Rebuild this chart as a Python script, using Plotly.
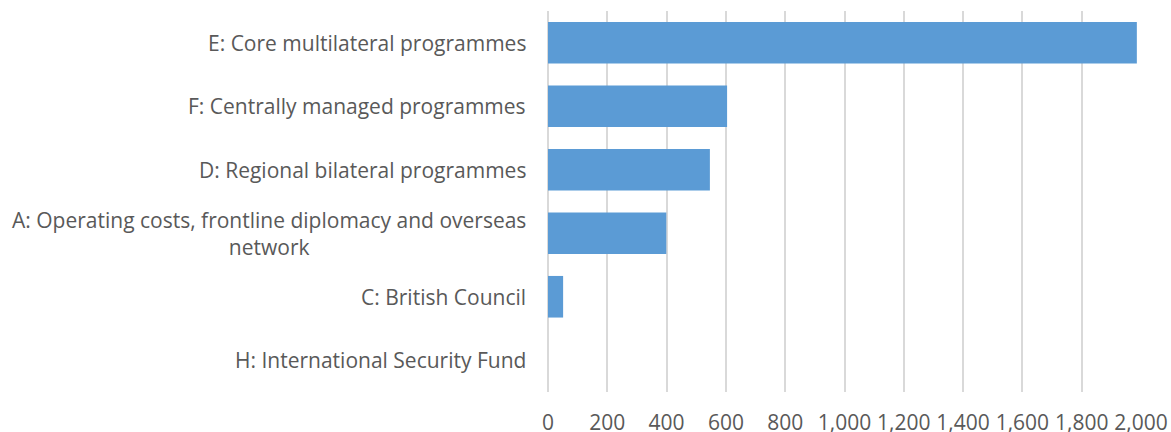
import plotly.graph_objects as go

# Spending by category (£ million)
categories = [
    "E: Core multilateral programmes",
    "F: Centrally managed programmes",
    "D: Regional bilateral programmes",
    "A: Operating costs, frontline diplomacy and overseas<br>network",
    "C: British Council",
    "H: International Security Fund",
]
values = [1986, 604, 546, 399, 51, 0]
x_ticks = [0, 200, 400, 600, 800, 1000, 1200, 1400, 1600, 1800, 2000]
x_tick_labels = ["0", "200", "400", "600", "800", "1,000", "1,200", "1,400", "1,600", "1,800", "2,000"]

FONT = "Open Sans"
FONT_SIZE = 21
TEXT_COLOR = "#595959"

fig = go.Figure(
    go.Bar(
        x=values,
        y=categories,
        orientation="h",
        marker=dict(color="#5B9BD5", line=dict(width=0)),
        hoverinfo="x+y",
    )
)

# Category labels drawn as centred, right-anchored annotations so wrapped lines centre
for cat in categories:
    fig.add_annotation(
        x=0, xref="paper", xanchor="right", xshift=-20,
        y=cat, yref="y",
        text=cat, showarrow=False, align="center",
        font=dict(family=FONT, size=FONT_SIZE, color=TEXT_COLOR),
    )

fig.update_layout(
    width=1171, height=432,
    margin=dict(l=548, r=30, t=11, b=40, autoexpand=False),
    paper_bgcolor="white", plot_bgcolor="white",
    bargap=0.345,
    showlegend=False,
    font=dict(family=FONT, size=FONT_SIZE, color=TEXT_COLOR),
)
fig.update_xaxes(
    range=[0, 2000],
    tickvals=x_ticks, ticktext=x_tick_labels,
    showgrid=True, gridcolor="#D9D9D9", gridwidth=1.5,
    zeroline=True, zerolinecolor="#D9D9D9", zerolinewidth=1.5,
    showline=False, ticks="", ticklabelstandoff=16, automargin=False,
    tickfont=dict(family=FONT, size=FONT_SIZE, color=TEXT_COLOR),
)
fig.update_yaxes(
    categoryorder="array", categoryarray=categories, autorange="reversed",
    showticklabels=False, showgrid=False, zeroline=False, showline=False,
    automargin=False,
)

fig.write_html("out.html")
